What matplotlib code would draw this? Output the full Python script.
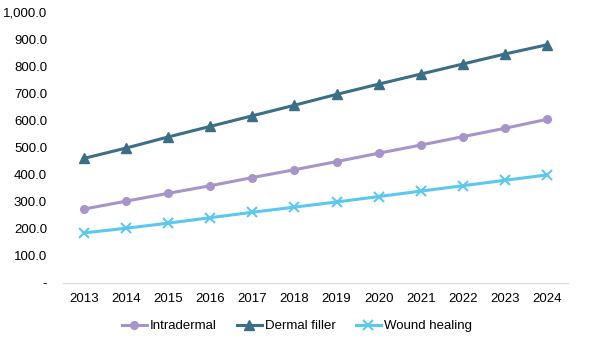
import matplotlib.pyplot as plt
from matplotlib.ticker import FuncFormatter

years = ['2013', '2014', '2015', '2016', '2017', '2018', '2019', '2020', '2021', '2022', '2023', '2024']
intradermal = [273, 302, 331, 359, 389, 418, 448, 479, 509, 540, 571, 604]
dermal_filler = [460, 498, 539, 578, 617, 656, 696, 734, 771, 808, 845, 879]
wound_healing = [185, 202, 221, 241, 261, 280, 299, 319, 339, 359, 379, 399]

plt.rcParams['font.family'] = ['Liberation Sans', 'DejaVu Sans']

fig = plt.figure(figsize=(6.03, 3.47), dpi=100)
ax = fig.add_axes([0.1045, 0.1844, 0.8375, 0.781])

x = range(len(years))
ax.plot(x, intradermal, color='#A694CA', lw=2.2, marker='o', ms=5.5, label='Intradermal')
ax.plot(x, dermal_filler, color='#3B6E87', lw=2.2, marker='^', ms=7.5, label='Dermal filler')
ax.plot(x, wound_healing, color='#5BC8F0', lw=2.2, marker='x', ms=7, mew=1.5, label='Wound healing')

ax.set_xlim(-0.5, len(years) - 0.5)
ax.set_ylim(0, 1000)
ax.set_yticks(range(0, 1001, 100))
ax.yaxis.set_major_formatter(FuncFormatter(lambda v, p: '-' if v == 0 else f'{v:,.1f}'))
ax.set_xticks(list(x))
ax.set_xticklabels(years)

for s in ['top', 'right', 'left']:
    ax.spines[s].set_visible(False)
ax.spines['bottom'].set_color('#D9D9D9')
ax.tick_params(axis='both', length=0, labelsize=9.5, colors='#000000')
ax.tick_params(axis='x', pad=7.5)
ax.tick_params(axis='y', pad=11.5)

ax.legend(loc='center', bbox_to_anchor=(0.5 * (127 + 467) / 603, (347 - 326) / 347),
          bbox_transform=fig.transFigure,
          ncol=3, frameon=False, fontsize=9.5, handlelength=1.9, columnspacing=1.5,
          handletextpad=0.25)

fig.savefig('out.png', dpi=100)
